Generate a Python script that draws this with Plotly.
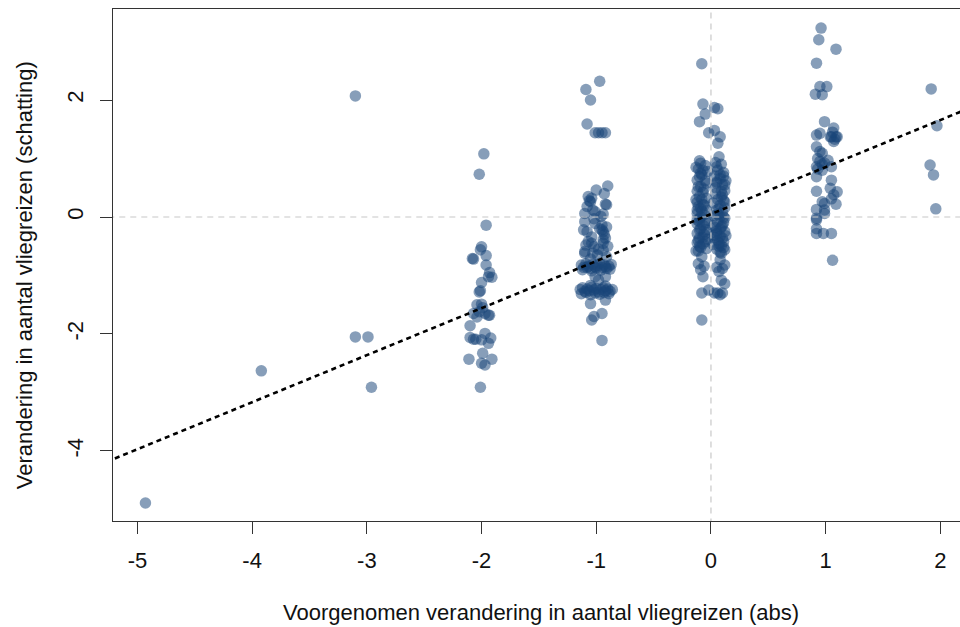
import plotly.graph_objects as go

# ---- data ----
# isolated points at -5 .. -3
x_m5_m3 = [-4.93, -3.92, -3.10, -3.10, -2.99, -2.96]
y_m5_m3 = [-4.89, -2.63, 2.07, -2.05, -2.05, -2.91]

# cluster at -2
x_m2 = [-1.98, -2.02, -1.96, -2.00, -2.01, -2.08, -2.07, -1.96, -1.96, -1.93, -1.91, -1.94,
        -2.00, -2.01, -2.02, -2.04, -2.00, -1.99, -2.07, -2.02, -1.97, -1.94, -1.93, -2.04,
        -2.10, -2.10, -2.07, -2.00, -1.97, -1.92, -1.94, -1.99, -2.11, -1.91, -2.00, -1.97,
        -2.01, -2.05]
y_m2 = [1.08, 0.73, -0.14, -0.51, -0.56, -0.71, -0.72, -0.66, -0.82, -0.95, -1.03, -1.02,
        -1.12, -1.26, -1.28, -1.50, -1.49, -1.55, -1.65, -1.62, -1.65, -1.68, -1.68, -1.71,
        -1.86, -2.06, -2.09, -2.10, -1.99, -2.07, -2.16, -2.33, -2.43, -2.43, -2.50, -2.53,
        -2.91, -2.09]

# cluster at -1
x_m1 = [-0.97, -1.09, -1.05, -1.08, -1.01, -0.98, -0.95, -0.92,
        -0.90, -1.00, -1.07, -1.04, -0.91, -1.05, -0.92, -1.10, -0.94, -1.03, -1.01,
        -1.10, -0.95, -0.91, -1.01, -1.11, -1.08, -0.95, -0.94,
        -1.04, -0.92, -0.94, -1.07, -1.04, -0.94, -1.02, -1.10, -0.94, -1.10, -0.99, -0.91,
        -1.13, -1.11, -1.09, -1.07, -1.05, -1.03, -1.01, -0.99, -0.97, -0.95, -0.93, -0.91, -0.89, -0.87,
        -1.12, -1.08, -1.04, -1.00, -0.96, -0.92, -0.88,
        -1.01, -0.92, -0.98,
        -1.14, -1.12, -1.10, -1.08, -1.06, -1.04, -1.02, -1.00, -0.98, -0.96, -0.94, -0.92, -0.90, -0.88, -0.86,
        -1.13, -1.09, -1.05, -1.01, -0.97, -0.93, -0.89,
        -1.05, -0.92,
        -1.05, -0.92, -0.95, -1.02, -1.04, -0.95,
        -1.08, -0.96, -1.02, -0.93, -1.09, -0.98, -1.05, -0.90, -1.06, -0.97, -1.03, -0.93]
y_m1 = [2.32, 2.18, 2.00, 1.59, 1.44, 1.44, 1.44, 1.44,
        0.53, 0.46, 0.35, 0.32, 0.21, 0.26, 0.22, 0.06, 0.05, 0.12, 0.09,
        -0.08, -0.14, -0.17, -0.11, -0.22, -0.25, -0.22, -0.25,
        -0.34, -0.36, -0.39, -0.42, -0.45, -0.45, -0.51, -0.59, -0.57, -0.62, -0.65, -0.68,
        -0.82, -0.86, -0.80, -0.84, -0.88, -0.81, -0.85, -0.83, -0.79, -0.86, -0.82, -0.88, -0.84, -0.81,
        -0.90, -0.86, -0.92, -0.87, -0.91, -0.85, -0.89,
        -1.02, -1.02, -1.08,
        -1.24, -1.21, -1.27, -1.23, -1.26, -1.20, -1.25, -1.22, -1.28, -1.24, -1.21, -1.26, -1.23, -1.27, -1.24,
        -1.31, -1.29, -1.33, -1.30, -1.32, -1.29, -1.31,
        -1.17, -1.18,
        -1.48, -1.42, -1.65, -1.70, -1.76, -2.11,
        0.18, 0.01, -0.03, -0.30, -0.48, -0.55, -0.72, -0.50, 0.28, -0.20, -0.62, 0.40]

# cluster at 0
x_0 = [-0.08, -0.07, 0.03, 0.06, -0.05, -0.10, -0.02, 0.03, 0.08, 0.06,
       -0.10, 0.07, -0.07, -0.10, 0.05, 0.08, -0.11, -0.04, 0.05, 0.09,
       -0.09, -0.05, 0.04, 0.09, -0.11, -0.03, 0.06, 0.11, -0.08, 0.03, 0.08, -0.12, -0.05, 0.05, 0.10, -0.09,
       -0.12, -0.07, 0.04, 0.10, 0.12,
       -0.10, -0.04, 0.06, 0.11,
       -0.12, -0.07, 0.02, 0.08, 0.12,
       -0.09, -0.04, 0.05, 0.10,
       -0.12, -0.06, 0.03, 0.08, 0.12,
       -0.10, -0.03, 0.06, 0.11,
       -0.12, -0.07, 0.02, 0.09,
       -0.09, -0.04, 0.05, 0.12,
       -0.12, -0.06, 0.03, 0.08,
       -0.10, -0.03, 0.06, 0.11,
       -0.12, -0.07, 0.02, 0.09,
       -0.09, -0.04, 0.05, 0.12,
       -0.11, 0.08,
       -0.08, 0.07, -0.10, 0.04, -0.05, 0.10, -0.11, 0.09, -0.06, 0.07,
       -0.13, -0.09, 0.11, 0.13, -0.06, 0.04, -0.13, 0.12, -0.08, 0.06, -0.12, 0.10,
       -0.10, 0.05, -0.07, 0.13, -0.11, 0.07, -0.04, 0.11, -0.13, 0.09, -0.09, 0.03,
       -0.12, 0.12, -0.06, 0.08, -0.10, 0.11,
       -0.08, 0.08, -0.11, -0.06, 0.05, 0.10, 0.12, -0.09, 0.07, -0.07, 0.09, 0.12,
       -0.08, -0.02, 0.03, 0.06, 0.08, 0.10, -0.08]
y_0 = [2.62, 1.93, 1.87, 1.85, 1.76, 1.63, 1.44, 1.48, 1.37, 1.26,
       0.96, 1.03, 0.80, 0.69, 0.86, 0.72, 0.52, 0.58, 0.58, 0.44,
       0.92, 0.88, 0.93, 0.90, 0.82, 0.78, 0.80, 0.76, 0.72, 0.70, 0.66, 0.63, 0.62, 0.60, 0.55, 0.52,
       0.44, 0.42, 0.40, 0.38, 0.45,
       0.35, 0.32, 0.30, 0.28,
       0.25, 0.22, 0.24, 0.20, 0.16,
       0.15, 0.12, 0.12, 0.08,
       0.06, 0.04, 0.02, 0.00, -0.02,
       -0.03, -0.06, -0.08, -0.10,
       -0.12, -0.14, -0.15, -0.17,
       -0.20, -0.22, -0.24, -0.25,
       -0.28, -0.30, -0.31, -0.33,
       -0.36, -0.38, -0.40, -0.42,
       -0.44, -0.46, -0.47, -0.49,
       -0.52, -0.54, -0.55, -0.56,
       -0.58, -0.60,
       0.30, 0.14, -0.08, -0.18, -0.42, -0.36, 0.18, 0.34, -0.25, -0.50,
       0.85, 0.75, 0.70, 0.62, 0.48, 0.50, 0.30, 0.26, 0.10, 0.05, -0.05, -0.15,
       -0.22, -0.28, -0.35, -0.32, -0.40, -0.45, -0.10, -0.52, -0.58, -0.62, 0.00, -0.35,
       0.12, 0.55, 0.20, -0.20, -0.50, 0.00,
       -0.68, -0.73, -0.80, -0.84, -0.86, -0.88, -0.82, -0.90, -0.93, -1.02, -1.08, -1.14,
       -1.30, -1.25, -1.30, -1.30, -1.33, -1.30, -1.76]

# cluster at 1
x_1 = [0.96, 0.94, 1.09, 0.92, 0.95, 1.01, 0.91, 0.97, 0.99, 1.07, 1.04, 1.10, 0.92, 0.95,
       1.05, 1.09, 1.07, 0.92, 0.95, 0.97, 0.93, 1.02, 0.99, 0.92, 1.05, 0.97, 0.92, 1.05,
       1.04, 1.10, 0.92, 1.07, 0.97, 0.99, 0.92, 0.99, 0.92, 0.92, 0.99, 0.92, 0.98, 1.05,
       1.06, 1.05, 1.09, 0.95, 0.97, 0.93, 1.08, 1.06, 0.92]
y_1 = [3.23, 3.03, 2.87, 2.63, 2.23, 2.23, 2.10, 2.09, 1.63, 1.52, 1.37, 1.37, 1.40, 1.43,
       1.37, 1.37, 1.29, 1.20, 1.12, 1.09, 1.00, 0.97, 0.92, 0.86, 0.86, 0.80, 0.69, 0.63,
       0.49, 0.43, 0.44, 0.38, 0.26, 0.23, 0.13, 0.12, -0.02, -0.05, 0.06, -0.28, -0.28, -0.28,
       -0.74, 0.31, 0.22, 0.95, 0.90, 0.82, 1.33, 1.45, -0.20]

# cluster at 2
x_2 = [1.92, 1.97, 1.91, 1.94, 1.96]
y_2 = [2.19, 1.56, 0.89, 0.72, 0.14]

# fitted line
fit_intercept = 0.05
fit_slope = 0.804

x_ticks = [-5, -4, -3, -2, -1, 0, 1, 2]
y_ticks = [-4, -2, 0, 2]
x_range = [-5.213, 2.171]
y_range = [-5.197, 3.556]

x_title = "Voorgenomen verandering in aantal vliegreizen (abs)"
y_title = "Verandering in aantal vliegreizen (schatting)"

# ---- figure ----
xs = x_m5_m3 + x_m2 + x_m1 + x_0 + x_1 + x_2
ys = y_m5_m3 + y_m2 + y_m1 + y_0 + y_1 + y_2

font = "Liberation Sans, Arial, Helvetica, sans-serif"
fsize = 22
fig = go.Figure()
fig.add_trace(go.Scatter(
    x=xs, y=ys, mode="markers",
    marker=dict(size=11.5, color="rgba(24,69,120,0.52)", line=dict(width=0)),
    hoverinfo="skip", showlegend=False))

grey_dash = dict(color="rgb(200,200,200)", width=1.2, dash="6px,5px")
fig.add_trace(go.Scatter(x=[0, 0], y=[y_range[0] - 1, y_range[1] + 1], mode="lines",
                         line=grey_dash, hoverinfo="skip", showlegend=False))
fig.add_trace(go.Scatter(x=[x_range[0] - 1, x_range[1] + 1], y=[0, 0], mode="lines",
                         line=grey_dash, hoverinfo="skip", showlegend=False))

lx = [x_range[0] - 1, x_range[1] + 1]
ly = [fit_intercept + fit_slope * v for v in lx]
fig.add_trace(go.Scatter(x=lx, y=ly, mode="lines",
                         line=dict(color="black", width=2.6, dash="5px,4px"),
                         hoverinfo="skip", showlegend=False))

axis_common = dict(showline=True, linecolor="#333", linewidth=1, ticks="outside",
                   ticklen=12, tickcolor="#333", tickwidth=1, showgrid=False,
                   zeroline=False, tickfont=dict(family=font, size=fsize, color="#111"))
fig.update_xaxes(range=x_range, mirror=True, tickvals=x_ticks,
                 ticktext=[str(v) for v in x_ticks], ticklabelstandoff=8, **axis_common)
fig.update_yaxes(range=y_range, mirror=False, tickvals=y_ticks,
                 ticktext=[str(v) for v in y_ticks], tickangle=-90,
                 ticklabelstandoff=8, **axis_common)

fig.update_layout(
    width=960, height=627,
    margin=dict(l=113, r=0, t=9, b=106, autoexpand=False),
    paper_bgcolor="white", plot_bgcolor="white",
    font=dict(family=font, size=fsize, color="#111"),
    hovermode=False,
    annotations=[
        dict(text=x_title, xref="paper", yref="paper", x=0.5053, y=0,
             xanchor="center", yanchor="middle", yshift=-91, showarrow=False,
             font=dict(family=font, size=fsize, color="#111")),
        dict(text=y_title, xref="paper", yref="paper", x=0, y=0.48,
             xanchor="center", yanchor="middle", xshift=-89, textangle=-90,
             showarrow=False, font=dict(family=font, size=fsize, color="#111")),
    ],
)

fig.write_html("out.html", config={"displayModeBar": False})

# remove the browser's default page margin so the figure sits at the window origin
with open("out.html", encoding="utf-8") as f:
    html = f.read()
html = html.replace("<head>", "<head><style>html,body{margin:0;padding:0;overflow:hidden}</style>", 1)
with open("out.html", "w", encoding="utf-8") as f:
    f.write(html)
